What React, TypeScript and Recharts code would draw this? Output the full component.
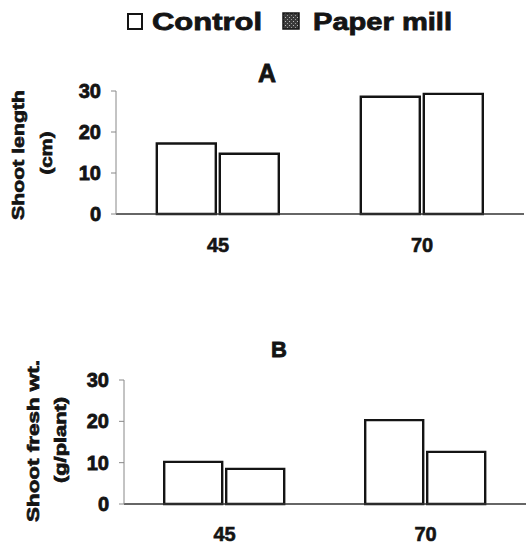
import React from "react";
import { BarChart, Bar, XAxis, YAxis } from "recharts";

const categories = ["45", "70"];
const shootLengthControl = [17.2, 28.6];
const shootLengthPaperMill = [14.7, 29.3];
const freshWtControl = [10.2, 20.3];
const freshWtPaperMill = [8.5, 12.6];
const yTicks = [0, 10, 20, 30];

const dataA = categories.map((c, i) => ({
  day: c,
  control: shootLengthControl[i],
  paper: shootLengthPaperMill[i],
}));
const dataB = categories.map((c, i) => ({
  day: c,
  control: freshWtControl[i],
  paper: freshWtPaperMill[i],
}));

const FONT = "'Liberation Sans', Arial, sans-serif";
const INK = "#141414";

const tickStyleY = { fontSize: 20, fontWeight: 700, fill: INK, stroke: INK, strokeWidth: 0.8, fontFamily: FONT };
const tickStyleX = { fontSize: 20, fontWeight: 700, fill: INK, stroke: INK, strokeWidth: 0.6, fontFamily: FONT };

function Panel({ data, top, height, marginTop, yWidth, right, xMargin }: any) {
  return (
    <div style={{ position: "absolute", left: 0, top, width: 530, height }}>
      <BarChart
        width={530}
        height={height}
        data={data}
        margin={{ top: marginTop, right, bottom: 0, left: 0 }}
        barGap={4}
        barCategoryGap="20%"
      >
        <XAxis
          dataKey="day"
          height={46}
          tickLine={false}
          tickSize={0}
          tickMargin={xMargin}
          axisLine={{ stroke: "#333", strokeWidth: 1.6 }}
          tick={tickStyleX}
        />
        <YAxis
          width={yWidth}
          domain={[0, 30]}
          ticks={yTicks}
          interval={0}
          tickSize={5}
          tickMargin={10}
          axisLine={{ stroke: "#888", strokeWidth: 1 }}
          tickLine={{ stroke: "#888" }}
          tick={tickStyleY}
        />
        <Bar dataKey="control" fill="#fff" stroke={INK} strokeWidth={2.4} isAnimationActive={false} />
        <Bar dataKey="paper" fill="#fff" stroke={INK} strokeWidth={2.4} isAnimationActive={false} />
      </BarChart>
    </div>
  );
}

const heavy = { fontWeight: 700, fill: INK, stroke: INK, fontFamily: FONT } as const;

export default function App() {
  return (
    <div
      style={{
        position: "absolute",
        left: 0,
        top: 0,
        width: 530,
        height: 550,
        background: "#fff",
        fontFamily: FONT,
      }}
    >
      <Panel data={dataA} top={60} height={200} marginTop={31} yWidth={116} right={6} xMargin={24} />
      <Panel data={dataB} top={330} height={220} marginTop={50} yWidth={124} right={4} xMargin={23} />
      <svg
        width={530}
        height={550}
        style={{ position: "absolute", left: 0, top: 0, pointerEvents: "none" }}
      >
        <defs>
          <pattern id="stipple" width="4" height="4" patternUnits="userSpaceOnUse">
            <rect width="4" height="4" fill="#3a3a3a" />
            <rect x="1" y="1" width="1" height="1" fill="#bbb" />
            <rect x="3" y="3" width="1" height="1" fill="#999" />
          </pattern>
        </defs>
        {/* Legend */}
        <rect x={128} y={14} width={14} height={15} fill="#fff" stroke={INK} strokeWidth={2} />
        <text x={152} y={30} fontSize={24} strokeWidth={0.8} {...heavy} textLength={110} lengthAdjust="spacingAndGlyphs">
          Control
        </text>
        <rect x={283} y={13} width={16} height={16} fill="url(#stipple)" stroke={INK} strokeWidth={1.5} />
        <text x={313} y={30} fontSize={24} strokeWidth={0.8} {...heavy} textLength={139} lengthAdjust="spacingAndGlyphs">
          Paper mill
        </text>
        {/* Panel titles */}
        <text x={267} y={82} fontSize={25} strokeWidth={0.8} {...heavy} textAnchor="middle">
          A
        </text>
        <text x={279} y={357} fontSize={22} strokeWidth={0.8} {...heavy} textAnchor="middle">
          B
        </text>
        {/* Y axis titles A */}
        <g transform="translate(24,155) rotate(-90)">
          <text x={0} y={0} fontSize={17} strokeWidth={0.7} {...heavy} textAnchor="middle" textLength={130} lengthAdjust="spacingAndGlyphs">
            Shoot length
          </text>
        </g>
        <g transform="translate(52,153) rotate(-90)">
          <text x={0} y={0} fontSize={16} strokeWidth={0.7} {...heavy} textAnchor="middle" textLength={43} lengthAdjust="spacingAndGlyphs">
            (cm)
          </text>
        </g>
        {/* Y axis titles B */}
        <g transform="translate(39,441) rotate(-90)">
          <text x={0} y={0} fontSize={17} strokeWidth={0.7} {...heavy} textAnchor="middle" textLength={162} lengthAdjust="spacingAndGlyphs">
            Shoot fresh wt.
          </text>
        </g>
        <g transform="translate(66,440) rotate(-90)">
          <text x={0} y={0} fontSize={16} strokeWidth={0.7} {...heavy} textAnchor="middle" textLength={86} lengthAdjust="spacingAndGlyphs">
            (g/plant)
          </text>
        </g>
      </svg>
    </div>
  );
}
